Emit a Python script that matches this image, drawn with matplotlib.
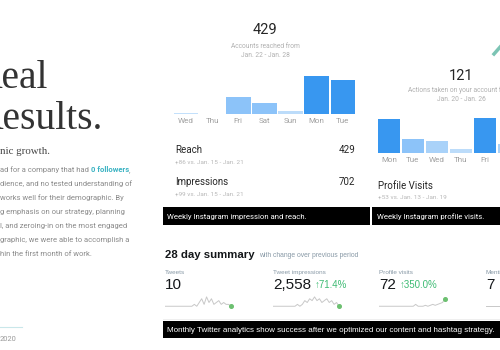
import matplotlib
matplotlib.use('Agg')
import matplotlib.pyplot as plt
from matplotlib.patches import Rectangle
from matplotlib.lines import Line2D

W, H = 500, 350

# Instagram reach per day (week of Jan. 22 - Jan. 28)
reach_days = ['Wed', 'Thu', 'Fri', 'Sat', 'Sun', 'Mon', 'Tue']
reach_values = [5, 1, 66, 41, 10, 146, 130]
reach_colors = ['#c3e0fb', '#eef6fe', '#8cc3f9', '#8cc3f9', '#bcdcfa', '#3897f0', '#3897f0']

# Instagram profile visits per day (Jan. 20 - Jan. 26)
visit_days = ['Mon', 'Tue', 'Wed', 'Thu', 'Fri', 'Sat', 'Sun']
visit_values = [34, 14, 12, 4, 35, 9, 3]
visit_colors = ['#3897f0', '#8cc3f9', '#a9d2f9', '#bcdcfa', '#3897f0', '#a9d2f9', '#bcdcfa']

# Twitter 28 day summary
summary_labels = ['Tweets', 'Tweet impressions', 'Profile visits', 'Mentions']
summary_totals = ['10', '2,558', '72', '7']
summary_change = ['', '\u219171.4%', '\u2191350.0%', '\u2191']
tweets_spark = [0, 0, 0, 0, 0, 0, 0, 0, 0, 0, 0, 0, 1, 0, 2, 4, 1, 5, 2, 4, 1, 2, 3, 1, 2, 1, 1, 0]
impressions_spark = [0, 0, 0, 0, 0, 0, 0, 0, 0, 0, 1, 0, 1, 3, 2, 4, 3, 5, 3, 4, 2, 3, 4, 2, 3, 1, 2, 0]
visits_spark = [0, 0, 0, 0, 0, 0, 0, 0, 0, 0, 0, 0, 0, 0, 0, 1, 0, 0, 0, 0.5, 0, 0.5, 1, 0.5, 1, 1.5, 2, 4]
mentions_spark = [0] * 28
sparks = [tweets_spark, impressions_spark, visits_spark, mentions_spark]

body_lines = [
    'ad for a company that had ',
    'dience, and no tested understanding of',
    'works well for their demographic. By',
    'g emphasis on our strategy, planning',
    'l, and zeroing-in on the most engaged',
    'graphic, we were able to accomplish a',
    'hin the first month of work.',
]

fig = plt.figure(figsize=(5, 3.5), dpi=100)
fig.patch.set_facecolor('white')
renderer = fig.canvas.get_renderer()

IG = ['Roboto', 'DejaVu Sans']
TW = ['Liberation Sans', 'DejaVu Sans']
SERIF = ['Liberation Serif', 'DejaVu Serif']


def txt(x, y, s, size, color, family=IG, **kw):
    return fig.text(x / W, 1 - y / H, s, fontsize=size, color=color,
                    family=family, va='baseline', **kw)


def right_of(t, gap=0):
    bb = t.get_window_extent(renderer)
    return bb.x1 + gap


def box(x0, y0, x1, y1, color):
    fig.add_artist(Rectangle((x0 / W, 1 - y1 / H), (x1 - x0) / W, (y1 - y0) / H,
                             transform=fig.transFigure, color=color, lw=0))


# ---- left column
txt(-24, 88, 'Real', 28.5, '#333333', SERIF)
txt(-23, 129, 'Results.', 28.5, '#333333', SERIF)
txt(0, 154, 'nic growth.', 7.8, '#444444', SERIF)
for i, line in enumerate(body_lines):
    t = txt(0, 172 + i * 14, line, 5.5, '#8a8a8a')
    if i == 0:
        t2 = txt(right_of(t), 172, '0 followers', 5.5, '#3bb3c3', weight='bold')
        txt(right_of(t2), 172, ',', 5.5, '#8a8a8a')
fig.add_artist(Line2D([0, 22 / W], [1 - 327 / H] * 2, color='#c9e7ea', lw=0.8,
                      transform=fig.transFigure))
txt(0, 341, '2020', 5.4, '#999999')

# ---- Instagram reach
txt(265, 34, '429', 10.5, '#262626', ha='center')
txt(265, 48, 'Accounts reached from', 4.8, '#b0b0b0', ha='center')
txt(265, 57, 'Jan. 22 - Jan. 28', 4.8, '#b0b0b0', ha='center')
ax1 = fig.add_axes([173 / W, 1 - 114 / H, 183 / W, 44 / H])
ax1.bar(range(len(reach_values)), reach_values, width=0.95, color=reach_colors)
ax1.set_xlim(-0.5, 6.5)
ax1.set_ylim(0, 168)
ax1.set_yticks([])
ax1.set_xticks(range(len(reach_days)), reach_days, family=IG)
ax1.tick_params(length=0, pad=3, labelsize=5.8, labelcolor='#a0a0a0')
for s in ax1.spines.values():
    s.set_visible(False)

txt(175, 153, 'Reach', 7, '#262626')
txt(355, 153, '429', 7, '#262626', ha='right')
txt(175, 164, '+86 vs. Jan. 15 - Jan. 21', 4.6, '#b8b8b8')
txt(175, 185, 'Impressions', 7, '#262626')
txt(355, 185, '702', 7, '#262626', ha='right')
txt(175, 196, '+99 vs. Jan. 15 - Jan. 21', 4.6, '#b8b8b8')
box(163, 207, 370, 225, 'black')
txt(167, 219.5, 'Weekly Instagram impression and reach.', 5.6, 'white')

# ---- Instagram profile visits
fig.add_artist(Line2D([494 / W, 501 / W], [1 - 54 / H, 1 - 46 / H], color='#7cc4b4',
                      lw=2.5, transform=fig.transFigure))
txt(461, 80, '121', 10.5, '#262626', ha='center')
txt(461, 92, 'Actions taken on your account from', 4.8, '#b0b0b0', ha='center')
txt(461, 101, 'Jan. 20 - Jan. 26', 4.8, '#b0b0b0', ha='center')
ax2 = fig.add_axes([377 / W, 1 - 153 / H, 168 / W, 38 / H])
ax2.bar(range(len(visit_values)), visit_values, width=0.95, color=visit_colors)
ax2.set_xlim(-0.5, 6.5)
ax2.set_ylim(0, 38)
ax2.set_yticks([])
ax2.set_xticks(range(len(visit_days)), visit_days, family=IG)
ax2.tick_params(length=0, pad=3, labelsize=5.8, labelcolor='#a0a0a0')
for s in ax2.spines.values():
    s.set_visible(False)

txt(378, 189, 'Profile Visits', 7, '#262626')
txt(378, 199, '+53 vs. Jan. 13 - Jan. 19', 4.6, '#b8b8b8')
box(372, 207, 500, 225, 'black')
txt(377, 219.5, 'Weekly Instagram profile visits.', 5.6, 'white')

# ---- Twitter summary
t = txt(165, 258, '28 day summary', 8.2, '#14171a', TW, weight='bold')
txt(right_of(t, 4), 257, 'with change over previous period', 4.9, '#8899a6', TW)
col_x = [165, 273, 379, 486]
for x, label, total, change, spark in zip(col_x, summary_labels, summary_totals,
                                          summary_change, sparks):
    txt(x, 274, label, 4.6, '#8899a6', TW)
    t = txt(x, 289, total, 11, '#14171a', TW)
    if change:
        txt(right_of(t, 4), 288, change, 7, '#3dbb73', TW)
    ax = fig.add_axes([x / W, 1 - 307 / H, 66 / W, 12 / H])
    ax.plot(range(len(spark)), spark, color='#c8c8c8', lw=0.7)
    if x < 480:
        ax.plot(len(spark) - 1, spark[-1], 'o', ms=2.6, color='#6cc070', clip_on=False)
    ax.set_xlim(0, len(spark) - 1)
    ax.set_ylim(-0.4, 6)
    ax.axis('off')

fig.add_artist(Line2D([163 / W, 1], [1 - 318.5 / H] * 2, color='#ececec', lw=0.6,
                      transform=fig.transFigure))
box(163, 321, 500, 338, 'black')
txt(167, 332.5, 'Monthly Twitter analytics show success after we optimized our content '
    'and hashtag strategy.', 5.75, 'white', TW)

fig.savefig('out.png', dpi=100, facecolor='white')
